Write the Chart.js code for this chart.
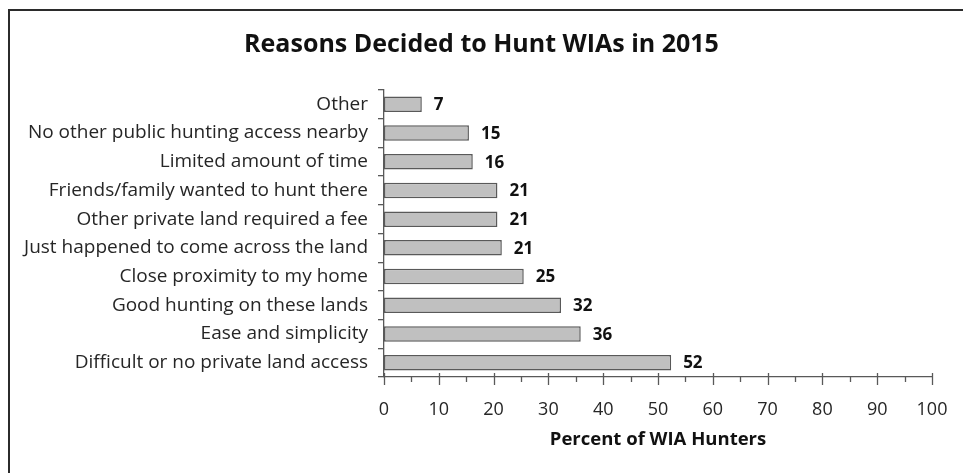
<!DOCTYPE html>
<html>
<head>
<meta charset="utf-8">
<script src="https://cdn.jsdelivr.net/npm/chart.js@4.4.1/dist/chart.umd.min.js"></script>
<style>
html,body{margin:0;padding:0;background:#fff;}
#wrap{position:absolute;left:0;top:0;width:963px;height:473px;}
#frame{position:absolute;left:8px;top:9px;right:0;bottom:0;border-left:2px solid #2b2b2b;border-top:2px solid #2b2b2b;pointer-events:none;}
canvas{position:absolute;left:0;top:0;}
</style>
</head>
<body>
<div id="wrap"><canvas id="c" width="963" height="473"></canvas><div id="frame"></div></div>
<script>
const categories = [
  "Other",
  "No other public hunting access nearby",
  "Limited amount of time",
  "Friends/family wanted to hunt there",
  "Other private land required a fee",
  "Just happened to come across the land",
  "Close proximity to my home",
  "Good hunting on these lands",
  "Ease and simplicity",
  "Difficult or no private land access"
];
const percents = [6.9, 15.5, 16.2, 20.7, 20.7, 21.5, 25.5, 32.3, 35.9, 52.4];
const valueLabels = ["7", "15", "16", "21", "21", "21", "25", "32", "36", "52"];
const xTicks = [0, 10, 20, 30, 40, 50, 60, 70, 80, 90, 100];
const titleText = "Reasons Decided to Hunt WIAs in 2015";
const xTitle = "Percent of WIA Hunters";

const FONT = "'Open Sans', 'Liberation Sans', sans-serif";
const TXT = '#262626';

const tickPlugin = {
  id: 'customTicks',
  afterLayout(chart) {
    const t = chart.titleBlock;
    if (t) { t.left = 0; t.right = chart.width; t.width = chart.width; }
  },
  afterDatasetsDraw(chart) {
    const ctx = chart.ctx;
    const xs = chart.scales.x;
    const y0 = chart.chartArea.bottom;
    ctx.save();
    ctx.strokeStyle = '#595959';
    ctx.lineWidth = 1.3;
    for (let v = 0; v <= 100; v += 5) {
      const px = Math.round(xs.getPixelForValue(v)) + 0.5;
      ctx.beginPath();
      if (v % 10 === 0) { ctx.moveTo(px, y0 - 4); ctx.lineTo(px, y0 + 8); }
      else { ctx.moveTo(px, y0); ctx.lineTo(px, y0 + 5); }
      ctx.stroke();
    }
    const meta = chart.getDatasetMeta(0);
    ctx.fillStyle = '#111';
    ctx.font = "bold 17px " + FONT;
    ctx.textAlign = 'left';
    ctx.textBaseline = 'middle';
    meta.data.forEach((bar, i) => {
      ctx.fillText(valueLabels[i], bar.x + 12, bar.y + 1);
    });
    ctx.restore();
  }
};

new Chart(document.getElementById('c'), {
  type: 'bar',
  data: {
    labels: categories,
    datasets: [{
      data: percents,
      backgroundColor: '#c0c0c0',
      borderColor: '#595959',
      borderWidth: 1.5,
      borderSkipped: false,
      barPercentage: 0.54,
      categoryPercentage: 1.0
    }]
  },
  options: {
    responsive: false,
    animation: false,
    indexAxis: 'y',
    layout: { padding: { left: 0, right: 31, top: 0, bottom: 22 } },
    plugins: {
      legend: { display: false },
      tooltip: { enabled: false },
      title: {
        display: true,
        text: titleText,
        color: '#111',
        font: { family: FONT, size: 25, weight: 'bold', lineHeight: 1.2 },
        padding: { top: 30, bottom: 30 }
      }
    },
    scales: {
      x: {
        type: 'linear',
        min: 0, max: 100,
        afterBuildTicks(scale) { scale.ticks = xTicks.map(v => ({ value: v })); },
        afterFit(scale) { scale.height = 74; },
        grid: { display: false, drawOnChartArea: false },
        border: { display: true, color: '#595959', width: 1.3 },
        ticks: {
          color: TXT,
          font: { family: FONT, size: 18 },
          padding: 14,
          maxRotation: 0
        },
        title: {
          display: true,
          text: xTitle,
          color: '#111',
          font: { family: FONT, size: 18.5, weight: 'bold', lineHeight: 1.2 },
          padding: { top: 4, bottom: 0 }
        }
      },
      y: {
        type: 'category',
        afterFit(scale) { scale.width = 384; },
        grid: { display: true, drawOnChartArea: false, offset: true, tickLength: 6, color: '#595959', lineWidth: 1.3 },
        border: { display: true, color: '#595959', width: 1.3 },
        ticks: {
          color: TXT,
          font: { family: FONT, size: 19 },
          padding: 10,
          autoSkip: false
        }
      }
    }
  },
  plugins: [tickPlugin]
});
</script>
</body>
</html>
